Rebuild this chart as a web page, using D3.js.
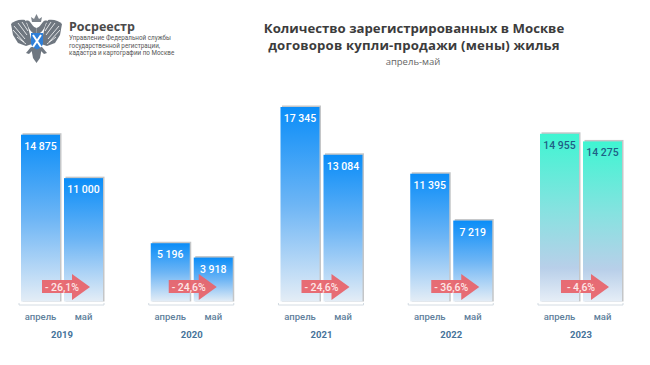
<!DOCTYPE html>
<html>
<head>
<meta charset="utf-8">
<script src="https://cdn.jsdelivr.net/npm/d3@7"></script>
<style>
  html, body { margin: 0; padding: 0; background: #fff; }
  svg { display: block; }
</style>
</head>
<body>
<div id="chart-area"></div>
<script>
var years = ["2019", "2020", "2021", "2022", "2023"];
var months = ["апрель", "май"];
var aprilValues = [14875, 5196, 17345, 11395, 14955];
var mayValues = [11000, 3918, 13084, 7219, 14275];
var changes = ["- 26,1%", "- 24,6%", "- 24,6%", "- 36,6%", "- 4,6%"];

var svg = d3.select("#chart-area").append("svg")
    .attr("width", 650)
    .attr("height", 365);

var defs = svg.append("defs");

function addGradient(id, stops) {
    var g = defs.append("linearGradient").attr("id", id)
        .attr("x1", 0).attr("y1", 0).attr("x2", 0).attr("y2", 1);
    stops.forEach((s) => {
        g.append("stop").attr("offset", s[0]).attr("stop-color", s[1]);
    });
}
addGradient("blue", [[0, "#0a8df8"], [0.5, "#6db5f5"], [1, "#e4edf6"]]);
addGradient("teal", [[0, "#3ff5d2"], [0.45, "#86e2e0"], [0.8, "#b8cfe9"], [1, "#e6eef7"]]);

// scales
var x = d3.scaleBand().domain(years).range([21, 622]).paddingInner(0.368);
var xMonth = d3.scaleBand().domain(months).range([0, x.bandwidth()]).paddingInner(0.093);
var y = d3.scaleLinear().domain([0, 17345]).range([301.5, 107]);
var numFormat = (v) => d3.format(",")(v).replace(",", " ");

var font = "Roboto, sans-serif";

var groups = svg.selectAll(".year").data(years).enter()
    .append("g")
    .attr("class", "year")
    .attr("transform", (d) => "translate(" + x(d) + ",0)");

groups.each(function (year, i) {
    var g = d3.select(this);
    var vals = [aprilValues[i], mayValues[i]];
    var fill = year == "2023" ? "url(#teal)" : "url(#blue)";

    vals.forEach((v, j) => {
        var bx = xMonth(months[j]);
        // grey shadow behind the bar
        g.append("rect")
            .attr("x", bx + 1.5)
            .attr("y", y(v) - 1.5)
            .attr("width", xMonth.bandwidth())
            .attr("height", y(0) - y(v) + 1.5)
            .attr("fill", "#c4c6c8");
        g.append("rect")
            .attr("x", bx)
            .attr("y", y(v))
            .attr("width", xMonth.bandwidth())
            .attr("height", y(0) - y(v))
            .attr("fill", fill);
        g.append("text")
            .attr("x", bx + xMonth.bandwidth() / 2)
            .attr("y", y(v) + 15)
            .attr("text-anchor", "middle")
            .attr("font-family", font)
            .attr("font-size", 10.5)
            .attr("font-weight", 500)
            .attr("fill", year == "2023" ? "#1f5f86" : "#fff")
            .text(numFormat(v));
    });

    // bracket and month names from an axis
    var axis = g.append("g")
        .attr("transform", "translate(0,305)")
        .call(d3.axisBottom(xMonth).tickSize(0).tickPadding(8));
    axis.select(".domain").remove();
    axis.selectAll("text")
        .attr("font-family", font)
        .attr("font-size", 9.5)
        .attr("font-weight", 500)
        .attr("fill", "#5f7f9c");
    g.append("path")
        .attr("d", "M-2,303V305H" + (x.bandwidth() + 1) + "V303")
        .attr("fill", "none")
        .attr("stroke", "#c9d3dc")
        .attr("stroke-width", 0.8);

    g.append("text")
        .attr("x", x.bandwidth() / 2)
        .attr("y", 338)
        .attr("text-anchor", "middle")
        .attr("font-family", font)
        .attr("font-size", 9.5)
        .attr("font-weight", 700)
        .attr("fill", "#46739a")
        .text(year);

    // red arrow, the 2020 one sits a bit further left
    var ax = year == "2020" ? 18 : 21;
    var arrow = g.append("g").attr("transform", "translate(" + ax + ",0)");
    arrow.append("path")
        .attr("d", "M0,280H30V274L48,287L30,300V293H0Z")
        .attr("fill", "#e8656d")
        .attr("fill-opacity", 0.95);
    arrow.append("text")
        .attr("x", 20)
        .attr("y", 291)
        .attr("text-anchor", "middle")
        .attr("font-family", font)
        .attr("font-size", 10.5)
        .attr("font-weight", 500)
        .attr("fill", "#fde6e6")
        .text(changes[i]);
});

// title
var titleFont = "'Open Sans', sans-serif";
svg.append("text").attr("x", 414).attr("y", 33).attr("text-anchor", "middle")
    .attr("font-family", titleFont).attr("font-size", 13.2).attr("font-weight", 700)
    .attr("fill", "#3c3c3c").text("Количество зарегистрированных в Москве");
svg.append("text").attr("x", 414).attr("y", 50).attr("text-anchor", "middle")
    .attr("font-family", titleFont).attr("font-size", 13.2).attr("font-weight", 700)
    .attr("letter-spacing", 0.17)
    .attr("fill", "#3c3c3c").text("договоров купли-продажи (мены) жилья");
svg.append("text").attr("x", 413).attr("y", 65).attr("text-anchor", "middle")
    .attr("font-family", titleFont).attr("font-size", 9.5)
    .attr("fill", "#666").text("апрель-май");

// logo text
svg.append("text").attr("x", 69).attr("y", 31)
    .attr("font-family", titleFont).attr("font-size", 12.5).attr("font-weight", 700)
    .attr("fill", "#4a4a4a").text("Росреестр");
var logoLines = ["Управление Федеральной службы", "государственной регистрации,", "кадастра и картографии по Москве"];
logoLines.forEach((t, i) => {
    svg.append("text").attr("x", 69).attr("y", 40 + i * 7.6)
        .attr("font-family", "Roboto, sans-serif").attr("font-size", 6.3)
        .attr("fill", "#555").text(t);
});

// logo emblem, one half is drawn and mirrored
var logo = svg.append("g");
var grey = "#6f7780";
[null, "translate(73,0) scale(-1,1)"].forEach((t) => {
    var half = logo.append("g").attr("transform", t);
    // wing
    half.append("path")
        .attr("d", "M25,20C19,19 14,21 11,24L13,35L18,43L26,46L32,44L30,35L28,27Z")
        .attr("fill", grey);
    // feathers
    half.append("path")
        .attr("d", "M14,26L25,39M13,30L24,42M17,37L26,44M18,23L27,35M22,22L28,31")
        .attr("stroke", "#fff").attr("stroke-width", 0.8).attr("fill", "none");
    // head and neck
    half.append("path")
        .attr("d", "M36.5,28C33,27 32,24 30,22C29,20 26,20 24,22L27,23C28,27 30,31 33,33H36.5Z")
        .attr("fill", grey);
    // legs
    half.append("path")
        .attr("d", "M31,47L26,53L29,54L33,50")
        .attr("fill", grey);
});
// tail and crown
logo.append("path").attr("d", "M31,47H42L40,58L36.5,63L33,58Z").attr("fill", grey);
logo.append("path").attr("d", "M32,22L31,17L34,19L36.5,14L39,19L42,17L41,22Z").attr("fill", "#7d848c");
// shield
logo.append("path").attr("d", "M31,33H43V43C43,46 40,48 37,49.5C34,48 31,46 31,43Z")
    .attr("fill", "#2f7fd8");
logo.append("path").attr("d", "M33,35L41,47M41,35L33,47").attr("stroke", "#fff").attr("stroke-width", 2);
</script>
</body>
</html>
